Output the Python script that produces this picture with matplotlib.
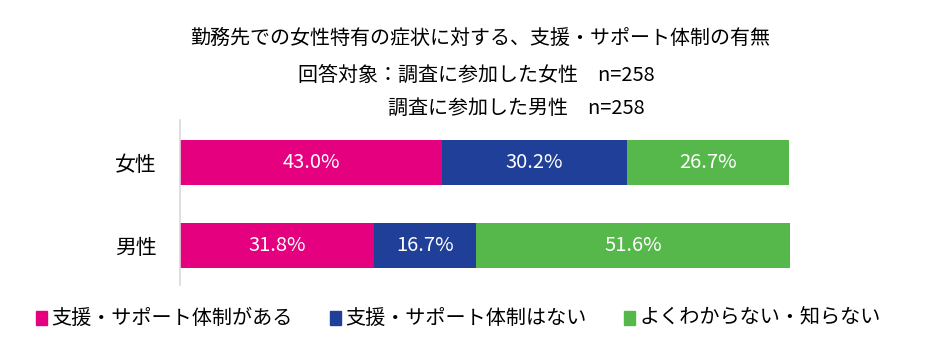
import matplotlib
matplotlib.use("Agg")
import matplotlib.pyplot as plt
from matplotlib.patches import Rectangle

plt.rcParams['font.family'] = ['Noto Sans CJK JP', 'DejaVu Sans']

categories = ['女性', '男性']
series_names = ['支援・サポート体制がある', '支援・サポート体制はない', 'よくわからない・知らない']
values_support = [43.0, 31.8]
values_none = [30.2, 16.7]
values_unknown = [26.7, 51.6]
colors = ['#E4007F', '#1F3F98', '#56B84B']

fig = plt.figure(figsize=(9.37, 3.63), dpi=100)
ax = fig.add_axes([180/937, 1-285/363, 610/937, 165/363])

ypos = [1, 0]
series = [values_support, values_none, values_unknown]
lefts = [0.0, 0.0]
for vals, col, name in zip(series, colors, series_names):
    ax.barh(ypos, vals, left=lefts, height=0.54, color=col, label=name)
    for y, v, l in zip(ypos, vals, lefts):
        ax.text(l + v/2, y, f'{v:.1f}%', ha='center', va='center', color='white', fontsize=14.5)
    lefts = [a + b for a, b in zip(lefts, vals)]

ax.set_xlim(0, 100)
ax.set_ylim(-0.48, 1.51)
ax.set_yticks(ypos)
ax.set_yticklabels(categories, fontsize=15)
ax.tick_params(axis='y', length=0, pad=17)
ax.set_xticks([])
for s in ['top', 'right', 'bottom']:
    ax.spines[s].set_visible(False)
ax.spines['left'].set_color('#D9D9D9')
ax.spines['left'].set_linewidth(1.2)

fig.text(480/937, 1-38/363, '勤務先での女性特有の症状に対する、支援・サポート体制の有無', ha='center', va='center', fontsize=14.4)
fig.text(655/937, 1-75/363, '回答対象：調査に参加した女性　n=258', ha='right', va='center', fontsize=14.4)
fig.text(645/937, 1-108/363, '調査に参加した男性　n=258', ha='right', va='center', fontsize=14.4)

# legend
leg_x = [36, 330, 624]
for x, col, name in zip(leg_x, colors, series_names):
    fig.patches.append(Rectangle((x/937, 1-325/363), 11/937, 14/363, transform=fig.transFigure, color=col))
    fig.text((x+15)/937, 1-318/363, name, ha='left', va='center', fontsize=14.5)

fig.savefig('out.png', dpi=100, facecolor='white')
